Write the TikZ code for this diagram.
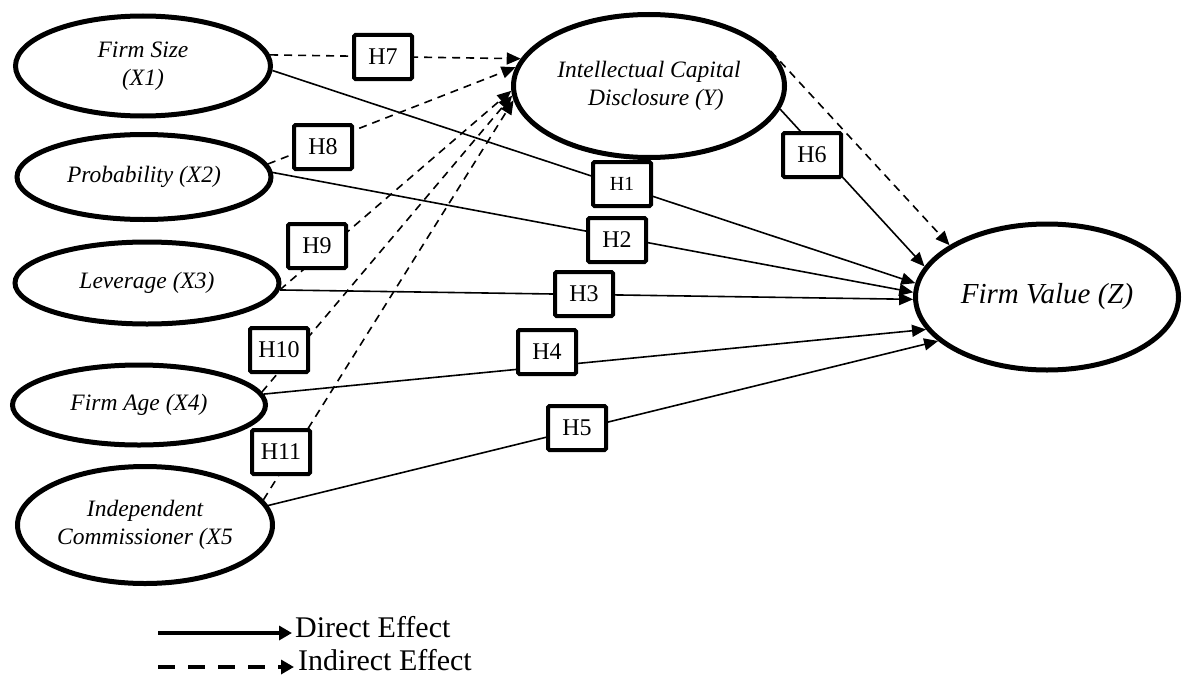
\documentclass[tikz,border=0pt]{standalone}
\usepackage{fontspec}
\setmainfont{Liberation Serif}
\usetikzlibrary{shapes.geometric,arrows.meta}
\begin{document}
\begin{tikzpicture}[x=1pt,y=-1pt,
  latent/.style={ellipse, draw, line width=5pt, fill=white, inner sep=0pt, align=center,
    font=\fontsize{23.5}{28}\selectfont\itshape},
  hbox/.style={rectangle, draw, line width=4pt, fill=white, minimum width=58pt,
    minimum height=44pt, inner sep=0pt, rounded corners=1.5pt,
    font=\fontsize{24}{28}\selectfont},
  tip/.style={-{Triangle[length=14pt,width=12pt]}},
  direct/.style={line width=1.6pt, tip},
  indirect/.style={line width=1.6pt, dash pattern=on 8pt off 6pt, tip},
  legtext/.style={anchor=base west, inner sep=0pt, font=\fontsize{30}{33}\selectfont},
]
\useasboundingbox (0,0) rectangle (1182,677);

% latent variables
\node[latent, minimum width=255pt, minimum height=100pt] (X1) at (143,66) {Firm Size\\(X1)};
\node[latent, minimum width=254pt, minimum height=85pt] (X2) at (144,177) {Probability (X2)};
\node[latent, minimum width=264pt, minimum height=82pt] (X3) at (147,283) {Leverage (X3)};
\node[latent, minimum width=253pt, minimum height=80pt] (X4) at (139,405) {Firm Age (X4)};
\node[latent, minimum width=255pt, minimum height=117pt] (X5) at (145,525) {Independent\\Commissioner (X5};
\node[latent, minimum width=271pt, minimum height=143pt] (Y) at (649,86) {Intellectual Capital\\\hspace*{14pt}Disclosure (Y)};
\node[latent, minimum width=263pt, minimum height=146pt, font=\fontsize{29}{32}\selectfont\itshape] (Z) at (1047,297) {Firm Value (Z)};

% direct effects
\draw[direct] (X1.-2) -- (Z.174);
\draw[direct] (X2.2) -- (Z.178.5);
\draw[direct] (X3.-3) -- (Z.181);
\draw[direct] (X4.5.3) -- (Z.195.7);
\draw[direct] (X5.9.5) -- (Z.202.6);
\draw[direct] (Y.-10.3) -- (Z.166.7);

% indirect effects
\draw[indirect] (X1.5.8) -- (Y.168.9);
\draw[indirect] (X2.6.4) -- (Y.172);
\draw[indirect] (X3.-3) -- (Y.182.5);
\draw[indirect] (X4.6.3) -- (Y.184);
\draw[indirect] (X5.12.2) -- (Y.186);
\draw[indirect] (Y.16.6) -- (Z.152.5);

% hypothesis labels
\node[hbox] (H1) at (622,184) {\fontsize{20}{24}\selectfont H1};
\node[hbox] (H2) at (617,240) {H2};
\node[hbox] (H3) at (584,294) {H3};
\node[hbox] (H4) at (547,352) {H4};
\node[hbox] (H5) at (577,428) {H5};
\node[hbox] (H6) at (812,155) {H6};
\node[hbox] (H7) at (383,57) {H7};
\node[hbox] (H8) at (323,147) {H8};
\node[hbox] (H9) at (317,246) {H9};
\node[hbox] (H10) at (279,350) {H10};
\node[hbox] (H11) at (281,452) {H11};

% legend
\coordinate (ds) at (158,633);
\coordinate (de) at (292,633);
\coordinate (is) at (158,667);
\coordinate (ie) at (294,667);
\draw[line width=4pt, -{Triangle[length=13pt,width=14pt]}] (ds) -- (de);
\draw[line width=4pt, dash pattern=on 17pt off 13pt, -{Triangle[length=13pt,width=14pt]}] (is) -- (ie);
\node[legtext] (dl) at (295,637) {Direct Effect};
\node[legtext] (il) at (298,670) {Indirect Effect};
\end{tikzpicture}
\end{document}
